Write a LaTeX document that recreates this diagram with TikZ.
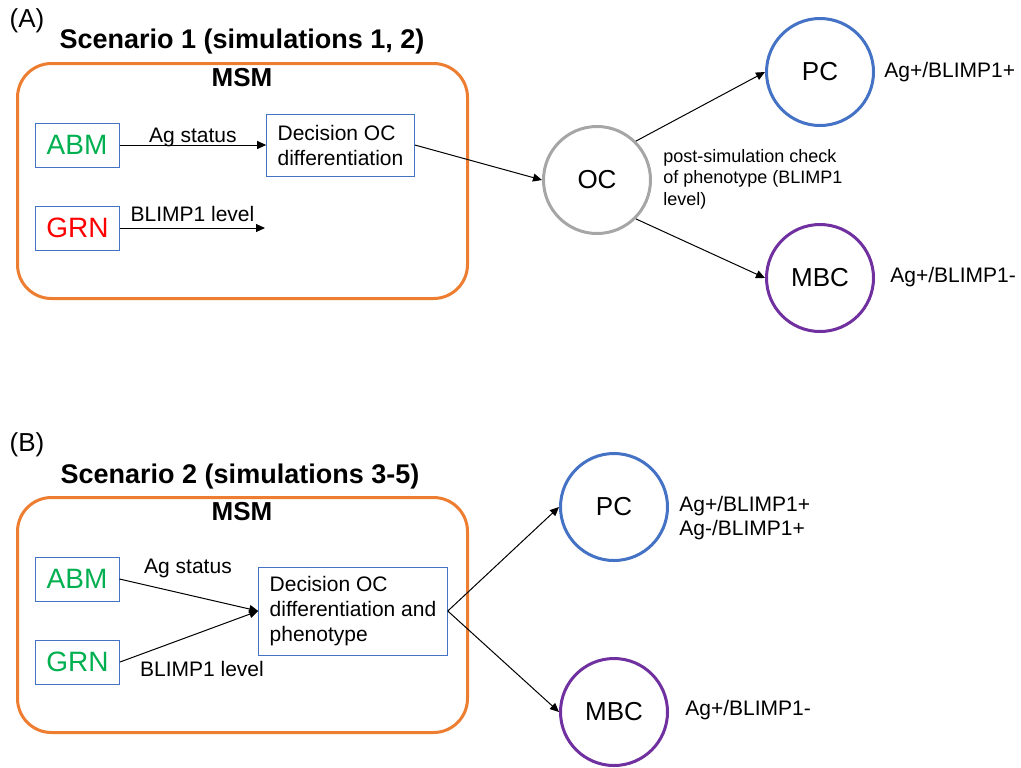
\documentclass[tikz,border=0pt]{standalone}
\usepackage{fontspec}
\setmainfont{Liberation Sans}
\usetikzlibrary{arrows.meta, positioning}
\definecolor{msmorange}{HTML}{ED7D31}
\definecolor{boxblue}{HTML}{4472C4}
\definecolor{pcblue}{HTML}{4472C4}
\definecolor{mbcpurple}{HTML}{7030A0}
\definecolor{ocgray}{HTML}{A6A6A6}
\definecolor{abmgreen}{HTML}{00B050}
\definecolor{grnred}{HTML}{FF0000}

\tikzset{
  msmframe/.style={draw=msmorange, line width=1.5pt, rounded corners=17pt, minimum width=225pt, minimum height=117.5pt},
  modbox/.style={draw=boxblue, line width=0.5pt, minimum width=42pt, minimum height=22pt, inner sep=0pt, font=\fontsize{14}{16}\selectfont},
  decbox/.style={draw=boxblue, line width=0.5pt, align=left, inner xsep=5.5pt, font=\fontsize{10.5}{12.5}\selectfont},
  cell/.style={circle, line width=1.5pt, minimum size=53.5pt, inner sep=0pt, font=\fontsize{13}{15}\selectfont},
  flow/.style={-{Triangle[length=4.5pt, width=4pt]}, line width=0.5pt},
  lbl/.style={inner sep=0pt, font=\fontsize{10.5}{12}\selectfont},
  panel/.style={font=\fontsize{13}{15}\selectfont},
  scen/.style={font=\bfseries\fontsize{13.5}{16}\selectfont}
}

\begin{document}
\begin{tikzpicture}[x=0.5pt, y=-0.5pt]
  \useasboundingbox (0,0) rectangle (1021,767);

  % (A) scenario 1
  \node[panel] (labA) at (27,21) {(A)};
  \node[scen] (titleA) at (242,42) {Scenario 1 (simulations 1, 2)};
  \node[msmframe] (msmA) at (242.5,181) {};
  \node[scen, font=\bfseries\fontsize{13}{15}\selectfont] (msmlabA) at (242,78) {MSM};
  \node[modbox, text=abmgreen] (abmA) at (77,145) {ABM};
  \node[modbox, text=grnred] (grnA) at (77.5,228) {GRN};
  \node[decbox, minimum height=31pt] (decA) at (340.5,145) {Decision OC\\differentiation};
  \coordinate (grnendA) at (265,228);
  \node[cell, draw=ocgray] (ocA) at (597,180) {OC};
  \node[cell, draw=pcblue] (pcA) at (820,72) {PC};
  \node[cell, draw=mbcpurple] (mbcA) at (820,278) {MBC};
  \node[lbl, anchor=west] (pcresA) at (884,72) {Ag+/BLIMP1+};
  \node[lbl, anchor=west] (mbcresA) at (890,277) {Ag+/BLIMP1-};
  \node[lbl, anchor=west, align=left, font=\fontsize{9}{10.8}\selectfont] (checkA) at (663,179) {post-simulation check\\of phenotype (BLIMP1\\level)};

  \draw[flow] (abmA) -- (decA) node[lbl, midway, above=-1pt] (agA) {Ag status};
  \draw[flow] (grnA) -- (grnendA) node[lbl, midway, above=3pt] (blA) {BLIMP1 level};
  \draw[flow] (decA.east) -- (ocA.west);
  \draw[flow] (ocA.north east) -- (pcA.west);
  \draw[flow] (ocA.south east) -- (mbcA.west);

  % (B) scenario 2
  \node[panel] (labB) at (27,445) {(B)};
  \node[scen] (titleB) at (240,477) {Scenario 2 (simulations 3-5)};
  \node[msmframe] (msmB) at (242.5,615) {};
  \node[scen, font=\bfseries\fontsize{13}{15}\selectfont] (msmlabB) at (242,512) {MSM};
  \node[modbox, text=abmgreen] (abmB) at (77,579) {ABM};
  \node[modbox, text=abmgreen] (grnB) at (77.5,662) {GRN};
  \node[decbox, minimum height=44pt] (decB) at (353,611) {Decision OC\\differentiation and\\phenotype};
  \node[cell, draw=pcblue] (pcB) at (614,507) {PC};
  \node[cell, draw=mbcpurple] (mbcB) at (614,712) {MBC};
  \node[lbl, anchor=west, align=left, font=\fontsize{10.5}{12}\selectfont] (pcresB) at (679,518) {Ag+/BLIMP1+\\Ag-/BLIMP1+};
  \node[lbl, anchor=west] (mbcresB) at (685,710) {Ag+/BLIMP1-};
  \node[lbl] (agB) at (188,568) {Ag status};
  \node[lbl] (blB) at (202,669) {BLIMP1 level};

  \draw[flow] (abmB.east) -- (decB.west);
  \draw[flow] (grnB.east) -- (decB.west);
  \draw[flow] (decB.east) -- (pcB.west);
  \draw[flow] (decB.east) -- (mbcB.west);
\end{tikzpicture}
\end{document}
